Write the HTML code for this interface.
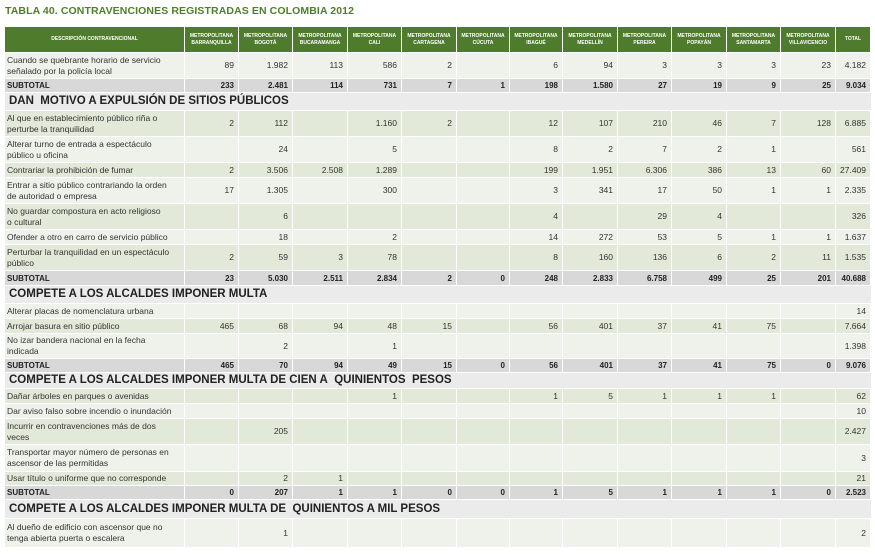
<!DOCTYPE html>
<html><head><meta charset="utf-8">
<style>
html,body{margin:0;padding:0;background:#fff;width:875px;height:554px;overflow:hidden;font-family:"Liberation Sans",sans-serif;}
.title{position:absolute;left:5px;top:5px;font-size:10.5px;font-weight:bold;color:#4f7f2a;letter-spacing:0.1px;}
table{position:absolute;left:5px;top:27px;border-collapse:separate;border-spacing:0;table-layout:fixed;width:866px;}
td{border-right:1px solid #fff;border-bottom:1px solid #fff;font-size:8.5px;color:#333;text-align:right;padding:0 4px 0 2px;line-height:11px;overflow:hidden;white-space:nowrap;box-sizing:border-box;}
td:first-child{text-align:left;padding-left:2px;}
tr.h td{background:#4e7b2c;color:#fff;font-size:5px;font-weight:bold;text-align:center;line-height:7px;padding:0 1px;white-space:normal;}
tr.g td{background:#e2e9d8;}
tr.l td{background:#eff2ea;}
tr.s td{background:#d8d8d8;font-weight:bold;font-size:8px;color:#222;}
tr.sec td{background:#ebebeb;font-size:11.5px;font-weight:bold;color:#222;text-align:left;padding-left:4px;border-right:none;}
</style></head><body>
<div class="title">TABLA 40. CONTRAVENCIONES REGISTRADAS EN COLOMBIA 2012</div>
<table>
<colgroup><col style="width:180px"><col style="width:54px"><col style="width:54px"><col style="width:55px"><col style="width:54px"><col style="width:55px"><col style="width:53px"><col style="width:53px"><col style="width:55px"><col style="width:54px"><col style="width:55px"><col style="width:54px"><col style="width:55px"><col style="width:35px"></colgroup>
<tr class="h" style="height:26px"><td style="text-align:center">DESCRIPCIÓN CONTRAVENCIONAL</td><td>METROPOLITANA BARRANQUILLA</td><td>METROPOLITANA BOGOTÁ</td><td>METROPOLITANA BUCARAMANGA</td><td>METROPOLITANA CALI</td><td>METROPOLITANA CARTAGENA</td><td>METROPOLITANA CÚCUTA</td><td>METROPOLITANA IBAGUÉ</td><td>METROPOLITANA MEDELLÍN</td><td>METROPOLITANA PEREIRA</td><td>METROPOLITANA POPAYÁN</td><td>METROPOLITANA SANTAMARTA</td><td>METROPOLITANA VILLAVICENCIO</td><td>TOTAL</td></tr>
<tr class="l" style="height:26px"><td>Cuando se quebrante horario de servicio<br>señalado por la policía local</td><td>89</td><td>1.982</td><td>113</td><td>586</td><td>2</td><td></td><td>6</td><td>94</td><td>3</td><td>3</td><td>3</td><td>23</td><td>4.182</td></tr>
<tr class="s" style="height:14px"><td>SUBTOTAL</td><td>233</td><td>2.481</td><td>114</td><td>731</td><td>7</td><td>1</td><td>198</td><td>1.580</td><td>27</td><td>19</td><td>9</td><td>25</td><td>9.034</td></tr>
<tr class="sec" style="height:18px"><td colspan="14">DAN&nbsp; MOTIVO A EXPULSIÓN DE SITIOS PÚBLICOS</td></tr>
<tr class="g" style="height:26px"><td>Al que en establecimiento público riña o<br>perturbe la tranquilidad</td><td>2</td><td>112</td><td></td><td>1.160</td><td>2</td><td></td><td>12</td><td>107</td><td>210</td><td>46</td><td>7</td><td>128</td><td>6.885</td></tr>
<tr class="l" style="height:26px"><td>Alterar turno de entrada a espectáculo<br>público u oficina</td><td></td><td>24</td><td></td><td>5</td><td></td><td></td><td>8</td><td>2</td><td>7</td><td>2</td><td>1</td><td></td><td>561</td></tr>
<tr class="g" style="height:15px"><td>Contrariar la prohibición de fumar</td><td>2</td><td>3.506</td><td>2.508</td><td>1.289</td><td></td><td></td><td>199</td><td>1.951</td><td>6.306</td><td>386</td><td>13</td><td>60</td><td>27.409</td></tr>
<tr class="l" style="height:26px"><td>Entrar a sitio público contrariando la orden<br>de autoridad o empresa</td><td>17</td><td>1.305</td><td></td><td>300</td><td></td><td></td><td>3</td><td>341</td><td>17</td><td>50</td><td>1</td><td>1</td><td>2.335</td></tr>
<tr class="g" style="height:26px"><td>No guardar compostura en acto religioso<br>o cultural</td><td></td><td>6</td><td></td><td></td><td></td><td></td><td>4</td><td></td><td>29</td><td>4</td><td></td><td></td><td>326</td></tr>
<tr class="l" style="height:15px"><td>Ofender a otro en carro de servicio público</td><td></td><td>18</td><td></td><td>2</td><td></td><td></td><td>14</td><td>272</td><td>53</td><td>5</td><td>1</td><td>1</td><td>1.637</td></tr>
<tr class="g" style="height:26px"><td>Perturbar la tranquilidad en un espectáculo<br>público</td><td>2</td><td>59</td><td>3</td><td>78</td><td></td><td></td><td>8</td><td>160</td><td>136</td><td>6</td><td>2</td><td>11</td><td>1.535</td></tr>
<tr class="s" style="height:15px"><td>SUBTOTAL</td><td>23</td><td>5.030</td><td>2.511</td><td>2.834</td><td>2</td><td>0</td><td>248</td><td>2.833</td><td>6.758</td><td>499</td><td>25</td><td>201</td><td>40.688</td></tr>
<tr class="sec" style="height:18px"><td colspan="14">COMPETE A LOS ALCALDES IMPONER MULTA</td></tr>
<tr class="l" style="height:15px"><td>Alterar placas de nomenclatura urbana</td><td></td><td></td><td></td><td></td><td></td><td></td><td></td><td></td><td></td><td></td><td></td><td></td><td>14</td></tr>
<tr class="g" style="height:15px"><td>Arrojar basura en sitio público</td><td>465</td><td>68</td><td>94</td><td>48</td><td>15</td><td></td><td>56</td><td>401</td><td>37</td><td>41</td><td>75</td><td></td><td>7.664</td></tr>
<tr class="l" style="height:25px"><td>No izar bandera nacional en la fecha<br>indicada</td><td></td><td>2</td><td></td><td>1</td><td></td><td></td><td></td><td></td><td></td><td></td><td></td><td></td><td>1.398</td></tr>
<tr class="s" style="height:14px"><td>SUBTOTAL</td><td>465</td><td>70</td><td>94</td><td>49</td><td>15</td><td>0</td><td>56</td><td>401</td><td>37</td><td>41</td><td>75</td><td>0</td><td>9.076</td></tr>
<tr class="sec" style="height:16px"><td colspan="14">COMPETE A LOS ALCALDES IMPONER MULTA DE CIEN A&nbsp; QUINIENTOS&nbsp; PESOS</td></tr>
<tr class="g" style="height:15px"><td>Dañar árboles en parques o avenidas</td><td></td><td></td><td></td><td>1</td><td></td><td></td><td>1</td><td>5</td><td>1</td><td>1</td><td>1</td><td></td><td>62</td></tr>
<tr class="l" style="height:15px"><td>Dar aviso falso sobre incendio o inundación</td><td></td><td></td><td></td><td></td><td></td><td></td><td></td><td></td><td></td><td></td><td></td><td></td><td>10</td></tr>
<tr class="g" style="height:26px"><td>Incurrir en contravenciones más de dos<br>veces</td><td></td><td>205</td><td></td><td></td><td></td><td></td><td></td><td></td><td></td><td></td><td></td><td></td><td>2.427</td></tr>
<tr class="l" style="height:27px"><td>Transportar mayor número de personas en<br>ascensor de las permitidas</td><td></td><td></td><td></td><td></td><td></td><td></td><td></td><td></td><td></td><td></td><td></td><td></td><td>3</td></tr>
<tr class="g" style="height:14px"><td>Usar título o uniforme que no corresponde</td><td></td><td>2</td><td>1</td><td></td><td></td><td></td><td></td><td></td><td></td><td></td><td></td><td></td><td>21</td></tr>
<tr class="s" style="height:14px"><td>SUBTOTAL</td><td>0</td><td>207</td><td>1</td><td>1</td><td>0</td><td>0</td><td>1</td><td>5</td><td>1</td><td>1</td><td>1</td><td>0</td><td>2.523</td></tr>
<tr class="sec" style="height:19px"><td colspan="14">COMPETE A LOS ALCALDES IMPONER MULTA DE&nbsp; QUINIENTOS A MIL PESOS</td></tr>
<tr class="l" style="height:29px"><td>Al dueño de edificio con ascensor que no<br>tenga abierta puerta o escalera</td><td></td><td>1</td><td></td><td></td><td></td><td></td><td></td><td></td><td></td><td></td><td></td><td></td><td>2</td></tr>
</table>
</body></html>
